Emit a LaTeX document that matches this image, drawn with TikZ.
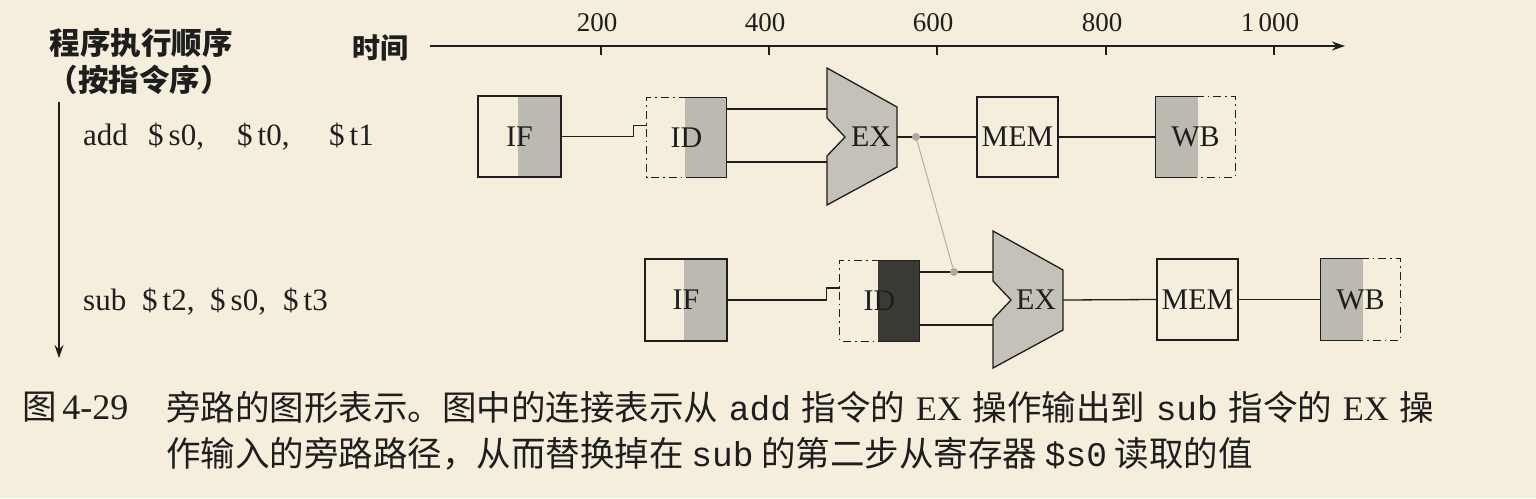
\documentclass[tikz,border=0pt]{standalone}
\usepackage{fontspec}
\setmainfont{Liberation Serif}
\setmonofont{Liberation Mono}
\newfontfamily\cjk{Noto Sans CJK SC}
\usetikzlibrary{arrows.meta,calc}
\definecolor{bg}{HTML}{F5EEDC}
\definecolor{shadegray}{HTML}{BBB9B0}
\definecolor{exfill}{HTML}{C4C1B8}
\definecolor{darkgray}{HTML}{3A3936}
\definecolor{bypassgray}{HTML}{ABA9A1}
\definecolor{ink}{HTML}{1E1E1E}
\newcommand{\csp}{\hspace{0.31em}}
\begin{document}
\begin{tikzpicture}[x=1pt,y=-1pt,
  line/.style={draw=ink,line width=1.3pt},
  stagebox/.style={rectangle,inner sep=0pt,minimum width=81pt,minimum height=80pt,
    font=\fontsize{30}{32}\selectfont,text=ink},
  solidbox/.style={stagebox,draw=ink,line width=1.3pt},
  shaderight/.style={path picture={\fill[#1] ([xshift=-2pt]path picture bounding box.north) rectangle (path picture bounding box.south east);}},
  shadeleft/.style={path picture={\fill[#1] ([xshift=2pt]path picture bounding box.north) rectangle (path picture bounding box.south west);}},
  dashdotline/.style={draw=ink,line width=1.3pt,dash pattern=on 8pt off 4pt on 1.6pt off 4pt},
  exunit/.pic={\filldraw[fill=exfill,draw=ink,line width=1.3pt]
     (0,-69) -- (70,-30) -- (70,30) -- (0,68) -- (0,19) -- (18,0) -- (0,-19) -- cycle;},
  dotmark/.style={circle,fill=bypassgray,draw=none,inner sep=0pt,minimum size=8pt},
  bypassline/.style={draw=bypassgray,line width=0.9pt},
  axislbl/.style={font=\fontsize{27}{29}\selectfont,text=ink},
  instr/.style={font=\fontsize{31}{33}\selectfont,text=ink,anchor=west,inner sep=0pt},
  headtext/.style={font=\cjk\bfseries\fontsize{30.5}{32}\selectfont,text=ink,inner sep=0pt},
  captext/.style={font=\cjk\fontsize{34.5}{36}\selectfont,text=ink,anchor=west,inner sep=0pt}
]
\fill[bg] (0,0) rectangle (1536,498);
\useasboundingbox (0,0) rectangle (1536,498);

% ---------- left column ----------
\node[headtext] (h1) at (141,43) {程序执行顺序};
\node[headtext] (h2) at (139,80) {（按指令序）};
\coordinate (ord0) at (59,102);
\coordinate (ord1) at (59,358);
\draw[line,line width=1.5pt,-{Stealth[length=13pt,width=9pt]}] (ord0) -- (ord1);

\node[instr] (i1) at (83,137) {\makebox[65pt][l]{add}\makebox[89pt][l]{\$\kern5pt s0,}\makebox[92pt][l]{\$\kern5pt t0,}\$\kern5pt t1};
\node[instr] (i2) at (83,302) {\makebox[59pt][l]{sub}\makebox[68pt][l]{\$\kern5pt t2,}\makebox[73pt][l]{\$\kern5pt s0,}\$\kern5pt t3};

% ---------- time axis ----------
\node[headtext,font=\cjk\bfseries\fontsize{28}{30}\selectfont] (tm) at (380,48) {时间};
\coordinate (ax0) at (430,46);
\coordinate (ax1) at (1345,46);
\draw[line,line width=1.5pt,-{Stealth[length=13pt,width=9pt]}] (ax0) -- (ax1);
\foreach \x/\t in {601/200,769/400,937/600,1106/800,1274/1\,000}{
  \draw[line,line width=1.2pt] (\x,46) -- (\x,55);
  \node[axislbl] at (\x-4,23) {\t};
}

% ---------- row 1 : add ----------
\node[solidbox,shaderight=shadegray,minimum width=83pt,minimum height=81pt] (if1) at (519.5,136.5) {IF};
\node[stagebox,shaderight=shadegray,minimum width=79pt,minimum height=79pt] (id1) at (686.5,137.5) {ID};
\draw[line] (id1.north) -- (id1.north east) -- (id1.south east) -- (id1.south);
\draw[dashdotline] (id1.north) -- (id1.north west) -- (id1.south west) -- (id1.south);
\draw[line] (if1.east) -| ([xshift=-13pt,yshift=12pt]id1.west) -- ([yshift=12pt]id1.west);

\coordinate (ex1) at (827,137);
\pic at (ex1) {exunit};
\node[stagebox,minimum width=0pt,minimum height=0pt] (ex1l) at ($(ex1)+(44,0)$) {EX};
\coordinate (ex1a) at ($(ex1)+(0,-28)$);
\coordinate (ex1b) at ($(ex1)+(0,25)$);
\coordinate (ex1o) at ($(ex1)+(70,0)$);
\draw[line] (ex1a -| id1.east) -- (ex1a);
\draw[line] (ex1b -| id1.east) -- (ex1b);

\node[solidbox,minimum width=81pt,minimum height=80pt] (mem1) at (1017.5,137) {MEM};
\draw[line] (ex1o) -- (mem1.west);

\node[stagebox,shadeleft=shadegray,minimum width=79pt,minimum height=80pt] (wb1) at (1195.5,137) {WB};
\draw[line] (wb1.north) -- (wb1.north west) -- (wb1.south west) -- (wb1.south);
\draw[dashdotline] (wb1.north) -- (wb1.north east) -- (wb1.south east) -- (wb1.south);
\draw[line] (mem1.east) -- (wb1.west);

% ---------- row 2 : sub ----------
\node[solidbox,shaderight=shadegray,minimum width=82pt,minimum height=82pt] (if2) at (686,300) {IF};
\node[stagebox,shaderight=darkgray,minimum width=79pt,minimum height=80pt] (id2) at (879.5,301) {ID};
\draw[line] (id2.north) -- (id2.north east) -- (id2.south east) -- (id2.south);
\draw[dashdotline] (id2.north) -- (id2.north west) -- (id2.south west) -- (id2.south);
\draw[line] (if2.east) -| ([xshift=-13pt,yshift=13pt]id2.west) -- ([yshift=13pt]id2.west);

\coordinate (ex2) at (993,300);
\pic at (ex2) {exunit};
\node[stagebox,minimum width=0pt,minimum height=0pt] (ex2l) at ($(ex2)+(43,0)$) {EX};
\coordinate (ex2a) at ($(ex2)+(0,-28)$);
\coordinate (ex2b) at ($(ex2)+(0,25)$);
\coordinate (ex2o) at ($(ex2)+(70,0)$);
\draw[line] (ex2a -| id2.east) -- (ex2a);
\draw[line] (ex2b -| id2.east) -- (ex2b);

\node[solidbox,minimum width=81pt,minimum height=81pt] (mem2) at (1197.5,299.5) {MEM};
\draw[line] (ex2o) -- (mem2.west);

\node[stagebox,shadeleft=shadegray,minimum width=79pt,minimum height=81pt] (wb2) at (1360.5,299.5) {WB};
\draw[line] (wb2.north) -- (wb2.north west) -- (wb2.south west) -- (wb2.south);
\draw[dashdotline] (wb2.north) -- (wb2.north east) -- (wb2.south east) -- (wb2.south);
\draw[line] (mem2.east) -- (wb2.west);

% ---------- bypass ----------
\node[dotmark] (bp1) at (916,137) {};
\node[dotmark] (bp2) at (954,272) {};
\draw[bypassline] (bp1) -- (bp2);

% ---------- caption ----------
\node[captext] (c0) at (22,407) {图\,{\rmfamily\fontsize{36}{38}\selectfont 4-29}};
\node[captext] (c1) at (166,407) {旁路的图形表示。图中的连接表示从\csp{\ttfamily add}\csp 指令的\csp{\rmfamily EX}\csp 操作输出到\csp{\ttfamily sub}\csp 指令的\csp{\rmfamily EX}\csp 操};
\node[captext] (c2) at (166,454) {作输入的旁路路径，从而替换掉在 {\ttfamily sub} 的第二步从寄存器 {\ttfamily \$s0} 读取的值};
\end{tikzpicture}
\end{document}
